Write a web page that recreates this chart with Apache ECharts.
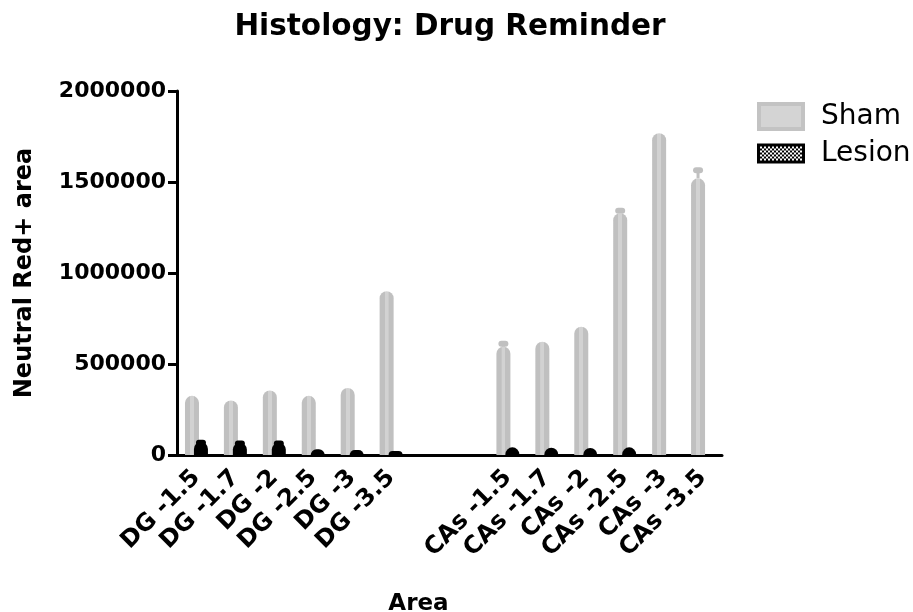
<!DOCTYPE html>
<html>
<head>
<meta charset="utf-8">
<script src="https://cdn.jsdelivr.net/npm/echarts@6/dist/echarts.min.js"></script>
<style>html,body{margin:0;padding:0;background:#fff;}#c{width:913px;height:612px;}</style>
</head>
<body>
<div id="c"></div>
<script>
const categories = ['DG -1.5','DG -1.7','DG -2','DG -2.5','DG -3','DG -3.5',' ','  ','CAs -1.5','CAs -1.7','CAs -2','CAs -2.5','CAs -3','CAs -3.5'];
const shamMean = [325000,300000,355000,325000,368000,900000,null,null,595000,622000,705000,1328000,1768000,1520000];
const shamErr = [0,0,0,0,0,0,null,null,33000,0,0,31000,0,61000];
const lesionMean = [72000,68000,68000,32000,28000,22000,null,null,42000,40000,38000,42000,null,null];
const lesionErr = [12000,12000,12000,0,0,0,null,null,0,0,0,0,null,null];
const yTicks = [0,500000,1000000,1500000,2000000];

const FONT = 'DejaVu Sans';
const SHAM = '#c0c0c0';

// legend icons (drawn as small SVG swatches)
const shamIcon = 'image://data:image/svg+xml;utf8,' + encodeURIComponent(
  '<svg xmlns="http://www.w3.org/2000/svg" width="48" height="29"><rect x="0" y="0" width="48" height="29" fill="#c3c3c3"/><rect x="4" y="4" width="40" height="21" fill="#d4d4d4"/></svg>');
let checks = '';
for (let yy = 0; yy < 14; yy += 2) for (let xx = 0; xx < 42; xx += 2) {
  if (((xx + yy) / 2) % 2 === 0) checks += '<rect x="' + (3 + xx) + '" y="' + (7.5 + yy) + '" width="2" height="2" fill="#fff"/>';
}
const lesionIcon = 'image://data:image/svg+xml;utf8,' + encodeURIComponent(
  '<svg xmlns="http://www.w3.org/2000/svg" width="48" height="29"><rect x="0" y="4.5" width="48" height="20" fill="#000"/>' + checks + '</svg>');

function errRender(offset, color) {
  return function (params, api) {
    const i = api.value(0), m = api.value(1), e = api.value(2);
    if (!e || m == null) return;
    const b = api.coord([i, m]);
    const t = api.coord([i, m + e]);
    const x = b[0] + offset;
    return {
      type: 'group',
      children: [
        {type: 'line', shape: {x1: x, y1: b[1], x2: x, y2: t[1] + 2}, style: {stroke: color, lineWidth: 3}},
        {type: 'rect', shape: {x: x - 5, y: t[1], width: 10, height: 6, r: 3}, style: {fill: color}}
      ]
    };
  };
}

const chart = echarts.init(document.getElementById('c'));
chart.setOption({
  animation: false,
  backgroundColor: '#fff',
  title: {
    text: 'Histology: Drug Reminder',
    left: 445, top: 7, textAlign: 'center',
    textStyle: {fontFamily: FONT, fontWeight: 'bold', fontSize: 29.5, color: '#000'}
  },
  legend: {
    orient: 'vertical', left: 757, top: 102, padding: 0,
    itemWidth: 48, itemHeight: 29, itemGap: 8,
    textStyle: {fontFamily: FONT, fontSize: 28, color: '#000', padding: [0, 0, 0, 11]},
    data: [
      {name: 'Sham', icon: shamIcon},
      {name: 'Lesion', icon: lesionIcon}
    ]
  },
  grid: {left: 177, right: 191, top: 91, bottom: 157, containLabel: false, outerBoundsMode: 'none'},
  xAxis: {
    type: 'category',
    data: categories,
    name: 'Area', nameLocation: 'middle', nameGap: 138,
    nameTextStyle: {fontFamily: FONT, fontWeight: 'bold', fontSize: 23, color: '#000', padding: [0, 62, 0, 0]},
    axisLine: {lineStyle: {color: '#000', width: 3}},
    axisTick: {alignWithLabel: true, length: 10, lineStyle: {color: '#000', width: 3}},
    axisLabel: {rotate: 45, interval: 0, margin: 19, fontFamily: FONT, fontWeight: 'bold', fontSize: 24, color: '#000'}
  },
  yAxis: {
    type: 'value', min: 0, max: 2000000, interval: 500000,
    name: 'Neutral Red+ area', nameLocation: 'middle', nameGap: 140,
    nameTextStyle: {fontFamily: FONT, fontWeight: 'bold', fontSize: 24, color: '#000'},
    axisLine: {show: true, lineStyle: {color: '#000', width: 3}},
    axisTick: {show: true, length: 9, lineStyle: {color: '#000', width: 3}},
    splitLine: {show: false},
    axisLabel: {margin: 11, fontFamily: FONT, fontWeight: 'bold', fontSize: 22, color: '#000',
      formatter: v => yTicks.indexOf(v) >= 0 ? String(v) : ''}
  },
  series: [
    {
      name: 'Sham', type: 'bar', data: shamMean, barWidth: 14, barGap: '-36%',
      itemStyle: {
        borderRadius: [7, 7, 0, 0],
        color: new echarts.graphic.LinearGradient(0, 0, 1, 0, [
          {offset: 0, color: SHAM}, {offset: 0.36, color: SHAM},
          {offset: 0.37, color: '#d2d2d2'}, {offset: 0.63, color: '#d2d2d2'},
          {offset: 0.64, color: SHAM}, {offset: 1, color: SHAM}
        ])
      },
      z: 2
    },
    {
      name: 'Lesion', type: 'bar', data: lesionMean, barWidth: 14,
      itemStyle: {color: '#000', borderRadius: [7, 7, 0, 0]},
      z: 3
    },
    {
      name: 'ShamErr', type: 'custom', renderItem: errRender(-4.5, SHAM),
      data: categories.map((c, i) => [i, shamMean[i], shamErr[i]]),
      encode: {x: 0, y: 1}, z: 1
    },
    {
      name: 'LesionErr', type: 'custom', renderItem: errRender(4.5, '#000'),
      data: categories.map((c, i) => [i, lesionMean[i], lesionErr[i]]),
      encode: {x: 0, y: 1}, z: 3
    }
  ]
});
</script>
</body>
</html>
